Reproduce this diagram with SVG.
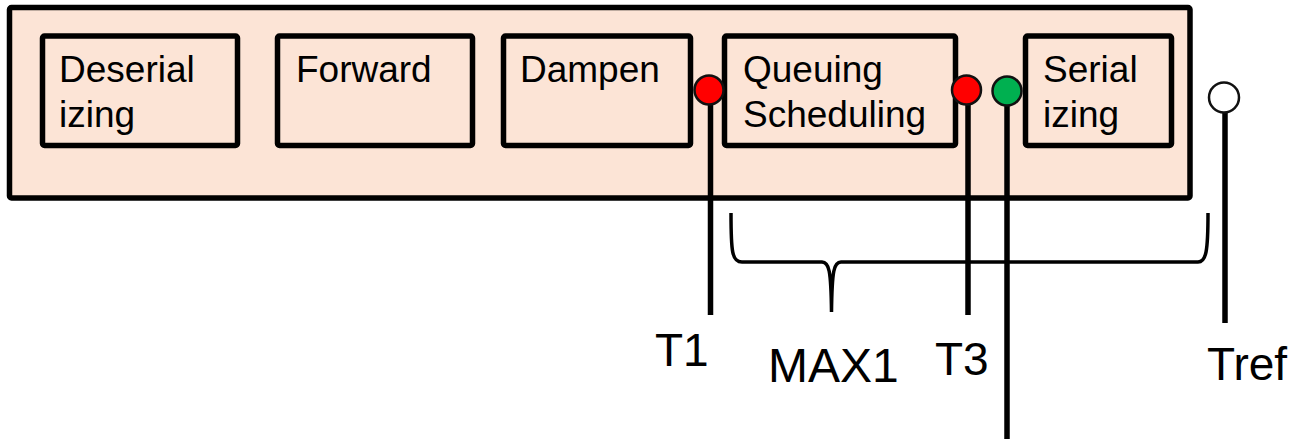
<svg xmlns="http://www.w3.org/2000/svg" width="1299" height="439" viewBox="0 0 1299 439">
<style>
.box{fill:#FCE4D6;stroke:#000;stroke-width:5.5;stroke-linejoin:round}
.lbl{font-family:"Liberation Sans",Arial,sans-serif;font-size:37px;fill:#000}
.tag{font-family:"Liberation Sans",Arial,sans-serif;font-size:46px;fill:#000}
.stem{stroke:#000;stroke-width:5.5;fill:none}
.dot{stroke:#111;stroke-width:2.5}
.brace{stroke:#000;stroke-width:3.5;fill:none}
</style>
<rect width="1299" height="439" fill="#fff"/>
<g id="device">
<rect class="box" x="9.5" y="7.5" width="1180.5" height="190.5" rx="2"/>
</g>
<g id="deserializing">
<rect class="box" x="42.5" y="36" width="195" height="109.5" rx="2"/>
<text class="lbl" x="59" y="82">Deserial</text>
<text class="lbl" x="59" y="127">izing</text>
</g>
<g id="forward">
<rect class="box" x="277.5" y="36" width="195" height="109.5" rx="2"/>
<text class="lbl" x="296" y="82">Forward</text>
</g>
<g id="dampen">
<rect class="box" x="503.5" y="36" width="187" height="109.5" rx="2"/>
<text class="lbl" x="520" y="82">Dampen</text>
</g>
<g id="queuing">
<rect class="box" x="724.5" y="36" width="231" height="109.5" rx="2"/>
<text class="lbl" x="743" y="82">Queuing</text>
<text class="lbl" x="743" y="127">Scheduling</text>
</g>
<g id="serializing">
<rect class="box" x="1025.5" y="36" width="146" height="109.5" rx="2"/>
<text class="lbl" x="1043" y="82">Serial</text>
<text class="lbl" x="1043" y="127">izing</text>
</g>
<g id="connectors">
<line class="stem" x1="710.5" y1="90" x2="710.5" y2="315"/>
<line class="stem" x1="968" y1="90" x2="968" y2="315"/>
<line class="stem" x1="1007" y1="91" x2="1007" y2="439"/>
<line class="stem" x1="1225" y1="98" x2="1225" y2="323"/>
<path class="brace" d="M731,213 C731,252 732,262 742,262 L822,262 C829,262 831,270 831.5,312 C832,270 834,262 841,262 L1198,262 C1206,262 1208,252 1208,213"/>
</g>
<g id="T1">
<circle class="dot" cx="709" cy="90" r="14.5" fill="#FF0000"/>
<text class="tag" x="655" y="366">T1</text>
</g>
<g id="T3">
<circle class="dot" cx="966.5" cy="90" r="14.5" fill="#FF0000"/>
<text class="tag" x="935" y="375">T3</text>
</g>
<g id="T2">
<circle class="dot" cx="1007" cy="91" r="14.5" fill="#00B050"/>
</g>
<g id="Tref">
<circle class="dot" cx="1224" cy="97.5" r="15" fill="#fff"/>
<text class="tag" x="1207" y="380">Tref</text>
</g>
<g id="MAX1">
<text class="tag" x="768" y="382" style="font-size:48px">MAX1</text>
</g>
</svg>
